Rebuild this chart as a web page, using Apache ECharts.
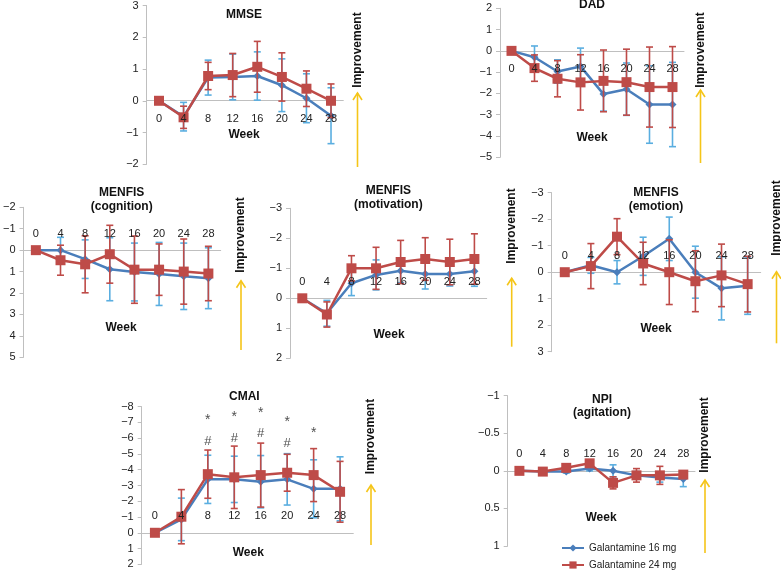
<!DOCTYPE html>
<html>
<head>
<meta charset="utf-8">
<style>
  html, body { margin: 0; padding: 0; background: #fff; }
  #chart { width: 781px; height: 571px; }
</style>
<script src="https://cdn.jsdelivr.net/npm/echarts@6/dist/echarts.min.js"></script>
</head>
<body>
<div id="chart"></div>
<script>
var weeks = ['0', '4', '8', '12', '16', '20', '24', '28'];

// change from baseline, mean and error bar half-length
var mmse16 = [0, -0.5, 0.73, 0.75, 0.78, 0.49, 0.08, -0.47];
var mmse16Err = [0, 0.45, 0.55, 0.72, 0.76, 0.83, 0.77, 0.88];
var mmse24 = [0, -0.52, 0.78, 0.81, 1.07, 0.75, 0.38, 0];
var mmse24Err = [0, 0.35, 0.43, 0.68, 0.8, 0.76, 0.56, 0.53];

var dad16 = [0, -0.3, -0.97, -0.73, -2.03, -1.8, -2.52, -2.52];
var dad16Err = [0, 0.53, 0.55, 0.86, 0.8, 1.23, 1.82, 1.98];
var dad24 = [0, -0.81, -1.31, -1.48, -1.41, -1.47, -1.7, -1.7];
var dad24Err = [0, 0.62, 0.85, 1.3, 1.45, 1.55, 1.88, 1.9];

var cog16 = [0, 0, 0.42, 0.89, 1.02, 1.11, 1.22, 1.31];
var cog16Err = [0, 0.6, 0.9, 1.47, 1.35, 1.47, 1.55, 1.42];
var cog24 = [0, 0.47, 0.66, 0.19, 0.91, 0.91, 1.0, 1.09];
var cog24Err = [0, 0.7, 1.33, 1.35, 1.57, 1.2, 1.52, 1.27];

var mot16 = [0, 0.5, -0.5, -0.78, -0.92, -0.81, -0.81, -0.9];
var mot16Err = [0, 0.43, 0.41, 0.5, 0.4, 0.5, 0.4, 0.5];
var mot24 = [0, 0.54, -1.0, -1.0, -1.21, -1.31, -1.21, -1.31];
var mot24Err = [0, 0.42, 0.42, 0.7, 0.72, 0.71, 0.76, 0.84];

var emo16 = [0, -0.26, 0, -0.6, -1.26, 0, 0.61, 0.51];
var emo16Err = [0, 0.3, 0.44, 0.72, 0.82, 0.98, 1.19, 1.08];
var emo24 = [0, -0.23, -1.34, -0.33, 0, 0.34, 0.12, 0.45];
var emo24Err = [0, 0.85, 0.68, 0.8, 1.22, 1.15, 1.18, 1.05];

var cmai16 = [0, -0.85, -3.39, -3.39, -3.24, -3.39, -2.79, -2.79];
var cmai16Err = [0, 1.35, 1.53, 1.47, 1.66, 1.63, 1.84, 2.03];
var cmai24 = [0, -1.02, -3.72, -3.52, -3.66, -3.81, -3.66, -2.6];
var cmai24Err = [0, 1.72, 1.53, 1.98, 2.03, 1.17, 1.68, 1.93];

var npi16 = [0, 0.01, 0.01, -0.03, 0, 0.06, 0.09, 0.11];
var npi16Err = [0, 0.01, 0.02, 0.03, 0.08, 0.05, 0.06, 0.1];
var npi24 = [0, 0.01, -0.04, -0.1, 0.16, 0.06, 0.06, 0.05];
var npi24Err = [0, 0.01, 0.03, 0.02, 0.08, 0.09, 0.12, 0.02];

// significance marks on CMAI
var cmaiStar = [null, null, -7.4, -7.6, -7.85, -7.28, -6.58, null];
var cmaiHash = [null, null, -5.82, -6.0, -6.33, -5.69, null, null];

var NAME16 = 'Galantamine 16 mg';
var NAME24 = 'Galantamine 24 mg';
var BLUE = '#4a7ebb', BLUE_ERR = '#5aaee0', RED = '#be4b48';
var FONT = '"Liberation Sans", Arial, sans-serif';

var panels = [
    { s16: mmse16, e16: mmse16Err, s24: mmse24, e24: mmse24Err, min: -2, max: 3, step: 1, inverse: false,
      box: [146.7, 4, 196.6, 160.3], title: ['MMSE'], tx: 244, ty: 15, week: [244, 135], arrow: [357.5, 50, 93, 167] },
    { s16: dad16, e16: dad16Err, s24: dad24, e24: dad24Err, min: -5, max: 2, step: 1, inverse: false,
      box: [500, 8.3, 184, 149], title: ['DAD'], tx: 592, ty: 4.5, week: [592, 137.5], arrow: [700.5, 50, 90, 163] },
    { s16: cog16, e16: cog16Err, s24: cog24, e24: cog24Err, min: -2, max: 5, step: 1, inverse: true,
      box: [21, 207.3, 199.7, 150], title: ['MENFIS', '(cognition)'], tx: 121.7, ty: 192.7, week: [121, 327.3], arrow: [241, 235, 280.7, 350] },
    { s16: mot16, e16: mot16Err, s24: mot24, e24: mot24Err, min: -3, max: 2, step: 1, inverse: true,
      box: [290, 208.3, 196.7, 150], title: ['MENFIS', '(motivation)'], tx: 388.3, ty: 190.7, week: [389, 335], arrow: [511.7, 226, 278.3, 346.7] },
    { s16: emo16, e16: emo16Err, s24: emo24, e24: emo24Err, min: -3, max: 3, step: 1, inverse: true,
      box: [551.7, 192.7, 209, 159], title: ['MENFIS', '(emotion)'], tx: 656, ty: 192.7, week: [656, 329], arrow: [776.5, 218, 271.7, 343.3] },
    { s16: cmai16, e16: cmai16Err, s24: cmai24, e24: cmai24Err, min: -8, max: 2, step: 1, inverse: true,
      box: [141.7, 406.7, 211.6, 157.6], title: ['CMAI'], tx: 244.3, ty: 396.7, week: [248.3, 552.7], arrow: [371, 436.5, 485, 545] },
    { s16: npi16, e16: npi16Err, s24: npi24, e24: npi24Err, min: -1, max: 1, step: 0.5, inverse: true,
      box: [507.7, 395.7, 187.3, 150.3], title: ['NPI', '(agitation)'], tx: 602, ty: 399.3, week: [601, 517.7], arrow: [705, 435, 480, 553] }
];

function errRender(color) {
    return function (params, api) {
        var i = api.value(0), v = api.value(1), e = api.value(2);
        if (!e) return;
        var hi = api.coord([i, v + e]);
        var lo = api.coord([i, v - e]);
        var w = 3.5;
        var st = { stroke: color, lineWidth: 1.6 };
        return {
            type: 'group',
            children: [
                { type: 'line', shape: { x1: hi[0], y1: hi[1], x2: lo[0], y2: lo[1] }, style: st },
                { type: 'line', shape: { x1: hi[0] - w, y1: hi[1], x2: hi[0] + w, y2: hi[1] }, style: st },
                { type: 'line', shape: { x1: lo[0] - w, y1: lo[1], x2: lo[0] + w, y2: lo[1] }, style: st }
            ]
        };
    };
}

function errData(vals, errs) {
    return vals.map(function (v, i) { return [i, v, errs[i]]; });
}

var grids = [], xAxes = [], yAxes = [], series = [], graphics = [];

panels.forEach(function (p, k) {
    grids.push({ left: p.box[0], top: p.box[1], width: p.box[2], height: p.box[3] });
    // distance of the zero line from the grid edge the x axis sits on
    var zeroShift = p.box[3] * (0 - p.min) / (p.max - p.min);
    var xBase = {
        type: 'category', gridIndex: k, data: weeks, boundaryGap: true,
        position: p.inverse ? 'top' : 'bottom',
        offset: -zeroShift,
        splitLine: { show: false }
    };
    // line + ticks behind the series
    xAxes.push(Object.assign({}, xBase, {
        z: 0,
        axisLine: { onZero: false, lineStyle: { color: '#bfbfbf', width: 1 } },
        axisTick: { length: 4, lineStyle: { color: '#bfbfbf' } },
        axisLabel: { show: false }
    }));
    // week labels drawn over the markers
    xAxes.push(Object.assign({}, xBase, {
        z: 10,
        axisLine: { show: false, onZero: false },
        axisTick: { show: false },
        axisLabel: { interval: 0, margin: p.inverse ? 11 : 13, fontSize: 11, color: '#222', fontFamily: FONT }
    }));
    yAxes.push({
        type: 'value', gridIndex: k, min: p.min, max: p.max, interval: p.step, inverse: p.inverse,
        axisLine: { show: true, lineStyle: { color: '#bfbfbf', width: 1 } },
        axisTick: { show: true, length: 4, lineStyle: { color: '#bfbfbf' } },
        axisLabel: {
            fontSize: 11, color: '#222', fontFamily: FONT, margin: 8,
            formatter: function (v) { return String(v).replace('-', '\u2212'); }
        },
        splitLine: { show: false }
    });

    var xi = 2 * k;
    series.push({
        name: 'err16', type: 'custom', xAxisIndex: xi, yAxisIndex: k, z: 2,
        renderItem: errRender(BLUE_ERR), data: errData(p.s16, p.e16), silent: true
    });
    series.push({
        name: NAME16, type: 'line', xAxisIndex: xi, yAxisIndex: k, z: 3, data: p.s16,
        symbol: 'diamond', symbolSize: 8, lineStyle: { color: BLUE, width: 2.5 },
        itemStyle: { color: BLUE }
    });
    series.push({
        name: 'err24', type: 'custom', xAxisIndex: xi, yAxisIndex: k, z: 4,
        renderItem: errRender(RED), data: errData(p.s24, p.e24), silent: true
    });
    series.push({
        name: NAME24, type: 'line', xAxisIndex: xi, yAxisIndex: k, z: 5, data: p.s24,
        symbol: 'rect', symbolSize: 10, lineStyle: { color: RED, width: 2.5 },
        itemStyle: { color: RED }
    });

    p.title.forEach(function (t, j) {
        graphics.push({
            type: 'text', x: p.tx, y: p.ty + j * 13.5,
            style: { text: t, font: 'bold 12px ' + FONT, fill: '#111', align: 'center', verticalAlign: 'middle' }
        });
    });
    graphics.push({
        type: 'text', x: p.week[0], y: p.week[1],
        style: { text: 'Week', font: 'bold 12px ' + FONT, fill: '#111', align: 'center', verticalAlign: 'middle' }
    });
    var ax = p.arrow[0];
    graphics.push({
        type: 'text', x: ax, y: p.arrow[1], rotation: Math.PI / 2,
        style: { text: 'Improvement', font: 'bold 12px ' + FONT, fill: '#111', align: 'center', verticalAlign: 'middle' }
    });
    graphics.push({
        type: 'line', shape: { x1: ax, y1: p.arrow[2], x2: ax, y2: p.arrow[3] },
        style: { stroke: '#f5c518', lineWidth: 1.6 }
    });
    graphics.push({
        type: 'polyline', shape: { points: [[ax - 4.5, p.arrow[2] + 7], [ax, p.arrow[2]], [ax + 4.5, p.arrow[2] + 7]] },
        style: { stroke: '#f5c518', lineWidth: 1.6, fill: null }
    });
});

function markData(vals) {
    var out = [];
    vals.forEach(function (v, i) { if (v !== null) out.push([i, v]); });
    return out;
}

series.push({
    name: 'star', type: 'scatter', xAxisIndex: 10, yAxisIndex: 5, z: 6, symbolSize: 1,
    itemStyle: { color: 'rgba(0,0,0,0)' }, data: markData(cmaiStar), silent: true,
    label: { show: true, position: 'inside', formatter: '*', fontSize: 14, color: '#222', fontFamily: FONT, offset: [0, 4] }
});
series.push({
    name: 'hash', type: 'scatter', xAxisIndex: 10, yAxisIndex: 5, z: 6, symbolSize: 1,
    itemStyle: { color: 'rgba(0,0,0,0)' }, data: markData(cmaiHash), silent: true,
    label: { show: true, position: 'inside', formatter: '#', fontSize: 13, color: '#222', fontFamily: FONT }
});

var legendBase = {
    left: 556, itemWidth: 22, itemHeight: 9,
    textStyle: { fontSize: 10, color: '#222', fontFamily: FONT }
};

var myChart = echarts.init(document.getElementById('chart'));
myChart.setOption({
    animation: false,
    textStyle: { fontFamily: FONT },
    grid: grids,
    xAxis: xAxes,
    yAxis: yAxes,
    legend: [
        Object.assign({ data: [NAME16], top: 538 }, legendBase),
        Object.assign({ data: [NAME24], top: 555 }, legendBase)
    ],
    graphic: graphics,
    series: series
});
</script>
</body>
</html>
